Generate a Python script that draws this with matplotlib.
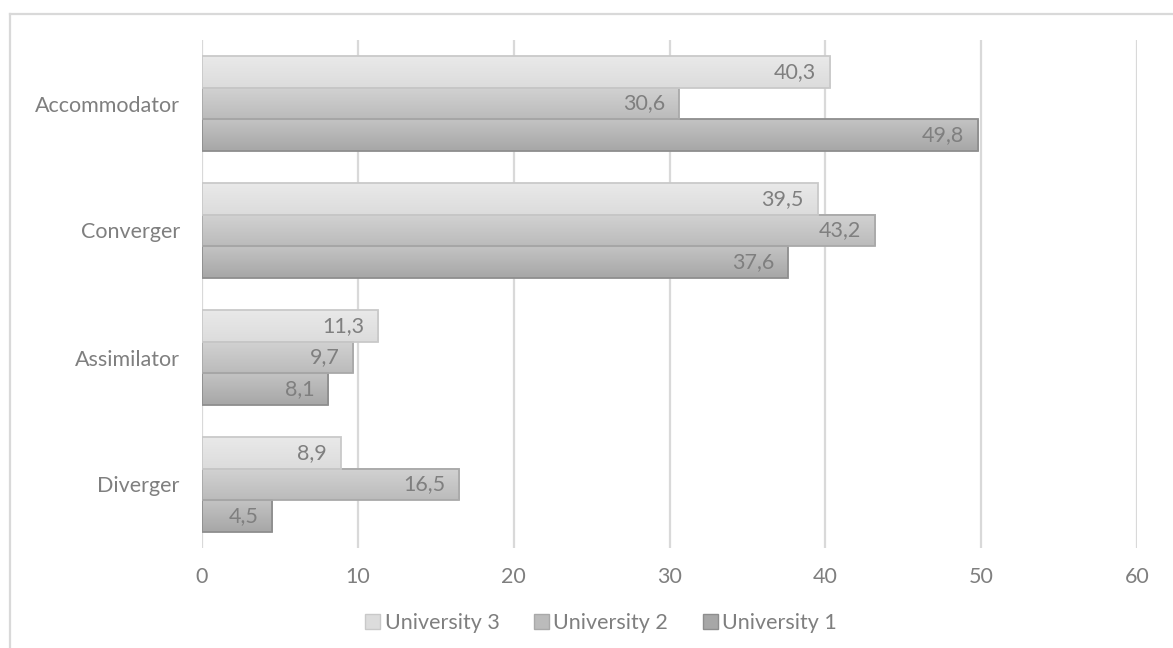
import numpy as np
import matplotlib.pyplot as plt
from matplotlib.lines import Line2D
from matplotlib.patches import Patch
from matplotlib.colors import LinearSegmentedColormap

categories = ['Diverger', 'Assimilator', 'Converger', 'Accommodator']
uni1 = [4.5, 8.1, 37.6, 49.8]
uni2 = [16.5, 9.7, 43.2, 30.6]
uni3 = [8.9, 11.3, 39.5, 40.3]
series_names = ['University 1', 'University 2', 'University 3']
x_ticks = [0, 10, 20, 30, 40, 50, 60]

# (top colour, bottom colour, edge colour) per series
styles = [('#c3c3c3', '#a7a7a7', '#8e8e8e'),
          ('#d2d2d2', '#bbbbbb', '#a9a9a9'),
          ('#e9e9e9', '#dcdcdc', '#c9c9c9')]

txt = '#7f7f7f'
fs = 15.5
plt.rcParams['font.family'] = ['Lato', 'DejaVu Sans']

fig = plt.figure(figsize=(11.73, 6.48), dpi=100)
ax = fig.add_axes([202 / 1173, 1 - 548 / 648, 935 / 1173, 508 / 648])

h = 0.25
y = np.arange(len(categories))
offsets = [-h, 0, h]
for vals, off, (top, bot, edge) in zip([uni1, uni2, uni3], offsets, styles):
    cmap = LinearSegmentedColormap.from_list('g', [bot, top])
    grad = np.linspace(0, 1, 64).reshape(-1, 1)
    for yi, v in zip(y, vals):
        y0 = yi + off - h / 2
        ax.imshow(grad, extent=(0, v, y0, y0 + h), origin='lower', aspect='auto',
                  cmap=cmap, zorder=2, interpolation='bilinear')
        ax.add_patch(plt.Rectangle((0, y0), v, h, facecolor='none', edgecolor=edge,
                                   linewidth=1.3, zorder=3))
        ax.annotate(f'{v:.1f}'.replace('.', ','), xy=(v, yi + off), xytext=(-10, 0),
                    textcoords='offset points', ha='right', va='center',
                    color=txt, fontsize=fs, zorder=4)

ax.set_xlim(0, 60)
ax.set_ylim(-0.5, 3.5)
ax.set_xticks(x_ticks)
ax.set_yticks(y)
ax.set_yticklabels(categories)
ax.tick_params(axis='both', length=0, colors=txt, labelsize=fs)
ax.tick_params(axis='x', pad=14)
ax.tick_params(axis='y', pad=16)
ax.grid(axis='x', color='#d9d9d9', linewidth=1.6, zorder=0)
ax.set_axisbelow(True)
for s in ax.spines.values():
    s.set_visible(False)

handles = [Patch(facecolor=styles[i][1], edgecolor=styles[i][2], label=series_names[i])
           for i in [2, 1, 0]]
fig.legend(handles=handles, loc='center', bbox_to_anchor=(601 / 1173, 1 - 623 / 648),
           ncol=3, frameon=False, fontsize=fs, labelcolor=txt, handlelength=0.7,
           handleheight=0.7, handletextpad=0.2, columnspacing=1.6)

# outer chart border (cropped at right and bottom)
fig.add_artist(Line2D([10 / 1173, 1], [1 - 14 / 648] * 2, color='#d9d9d9', lw=1.6))
fig.add_artist(Line2D([10 / 1173] * 2, [0, 1 - 14 / 648], color='#d9d9d9', lw=1.6))

fig.savefig('out.png', dpi=100)
